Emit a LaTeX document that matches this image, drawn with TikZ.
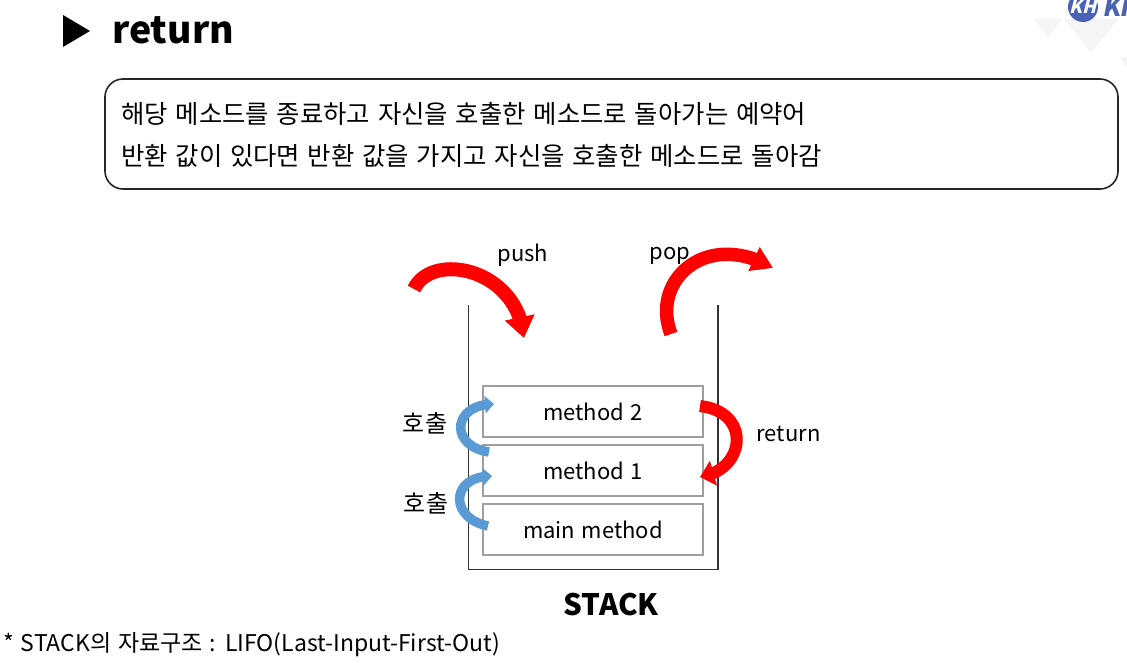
\documentclass[tikz,border=0pt]{standalone}
\usepackage{fontspec}
\setmainfont{Noto Sans CJK KR}
\newfontfamily\kbodyfont[WordSpace=1.37]{Noto Sans CJK KR}
\newfontfamily\kmethodfont[WordSpace=2.2]{Noto Sans CJK KR}
\newfontfamily\kfootfont[WordSpace=1.36]{Noto Sans CJK KR}
\usetikzlibrary{arrows.meta,bending}
\definecolor{kred}{HTML}{FF0000}
\definecolor{kblue}{HTML}{5B9BD5}
\definecolor{klogo}{HTML}{4A62B5}
\definecolor{kpale}{HTML}{F5F5F7}
\tikzset{
  x=1pt,y=-1pt,
  boxm/.style={draw=black!38,line width=1.4pt,minimum width=220pt,minimum height=51pt,inner sep=0pt,font={\kmethodfont\fontsize{22}{26}\selectfont}},
  lab/.style={inner sep=0pt,font=\fontsize{22}{26}\selectfont},
  labk/.style={inner sep=0pt,font=\fontsize{24}{28}\selectfont},
  bodytext/.style={inner sep=0pt,anchor=west,font={\kbodyfont\fontsize{25.4}{30}\selectfont}},
  redarrow/.style={draw=kred,line width=14pt,-{Triangle[length=21pt,width=29pt,flex=1]}},
  redarrowp/.style={draw=kred,line width=13.5pt,-{Triangle[length=21pt,width=25pt,flex=1]}},
  redarrowr/.style={draw=kred,line width=12pt,-{Triangle[length=14pt,width=25pt,flex=1]}},
  bluearrow/.style={draw=kblue,line width=9.5pt,-{Triangle[length=9pt,width=17pt,flex=1]}},
}
\begin{document}
\begin{tikzpicture}
\useasboundingbox (0,0) rectangle (1127,663);
% logo
\begin{scope}
\clip (0,0) rectangle (1127,663);
\fill[kpale] (1034,19) -- (1062,19) -- (1048,37) -- cycle;
\fill[kpale] (1064,19) -- (1118,19) -- (1091,53) -- cycle;
\fill[kpale] (1120,57) -- (1127,57) -- (1127,68) -- cycle;
\node[circle,fill=klogo,minimum size=30pt,inner sep=0pt,text=white,font=\bfseries\fontsize{18}{18}\selectfont] (logocircle) at (1083,7) {\addfontfeature{FakeSlant=0.25}KH};
\node[inner sep=0pt,anchor=west,text=klogo,font=\bfseries\fontsize{25}{25}\selectfont] (logotext) at (1102,7) {\addfontfeature{FakeSlant=0.2}KH};
\end{scope}
% title
\fill[black] (63,15) -- (90,31) -- (63,47) -- cycle;
\node[inner sep=0pt,anchor=west,font=\bfseries\fontsize{37.4}{44}\selectfont] (title) at (112,30) {return};
% description
\draw[draw=black!85,line width=1.6pt,rounded corners=18pt] (105,79) rectangle (1118,189);
\node[bodytext] (line1) at (121,113.5) {해당 메소드를 종료하고 자신을 호출한 메소드로 돌아가는 예약어};
\node[bodytext] (line2) at (121,155.5) {반환 값이 있다면 반환 값을 가지고 자신을 호출한 메소드로 돌아감};
% stack
\draw[draw=black!80,line width=1.3pt] (468.5,305) -- (468.5,569.5) -- (718,569.5) -- (718,305);
\node[boxm] (m2) at (593,411.5) {method 2};
\node[boxm] (m1) at (593,470.5) {method 1};
\node[boxm] (m0) at (593,529.5) {main method};
\node[inner sep=0pt,font=\bfseries\fontsize{29.5}{36}\selectfont] (stack) at (611,604.5) {STACK};
\node[lab] (pushl) at (523,255) {push};
\node[lab] (popl) at (670,256) {pop};
\node[lab] (retl) at (788.5,434) {return};
\node[labk] (call1) at (425,423) {호출};
\node[labk] (call2) at (426,503) {호출};
\node[inner sep=0pt,anchor=west,font={\kfootfont\fontsize{23}{27}\selectfont}] (foot) at (3,645) {* STACK의 자료구조 : LIFO(Last-Input-First-Out)};
% arrows
\coordinate (pushs) at (414,289);
\coordinate (pushe) at (524,338);
\coordinate (pops) at (671,334);
\coordinate (pope) at (773,268);
\coordinate (rets) at (700,406);
\coordinate (rete) at (700,477);
\coordinate (c2s) at (489,452);
\coordinate (c2e) at (494,404);
\coordinate (c1s) at (488,526);
\coordinate (c1e) at (492,476);
\draw[redarrow] (pushs) .. controls (432,251) and (518,268) .. (pushe);
\draw[redarrowp] (pops) .. controls (650,280) and (707,229) .. (pope);
\draw[redarrowr] (rets) .. controls (752,412) and (746,470) .. (rete);
\draw[bluearrow] (c2s) .. controls (449,446) and (452,404) .. (c2e);
\draw[bluearrow] (c1s) .. controls (449,518) and (450,476) .. (c1e);
\end{tikzpicture}
\end{document}
